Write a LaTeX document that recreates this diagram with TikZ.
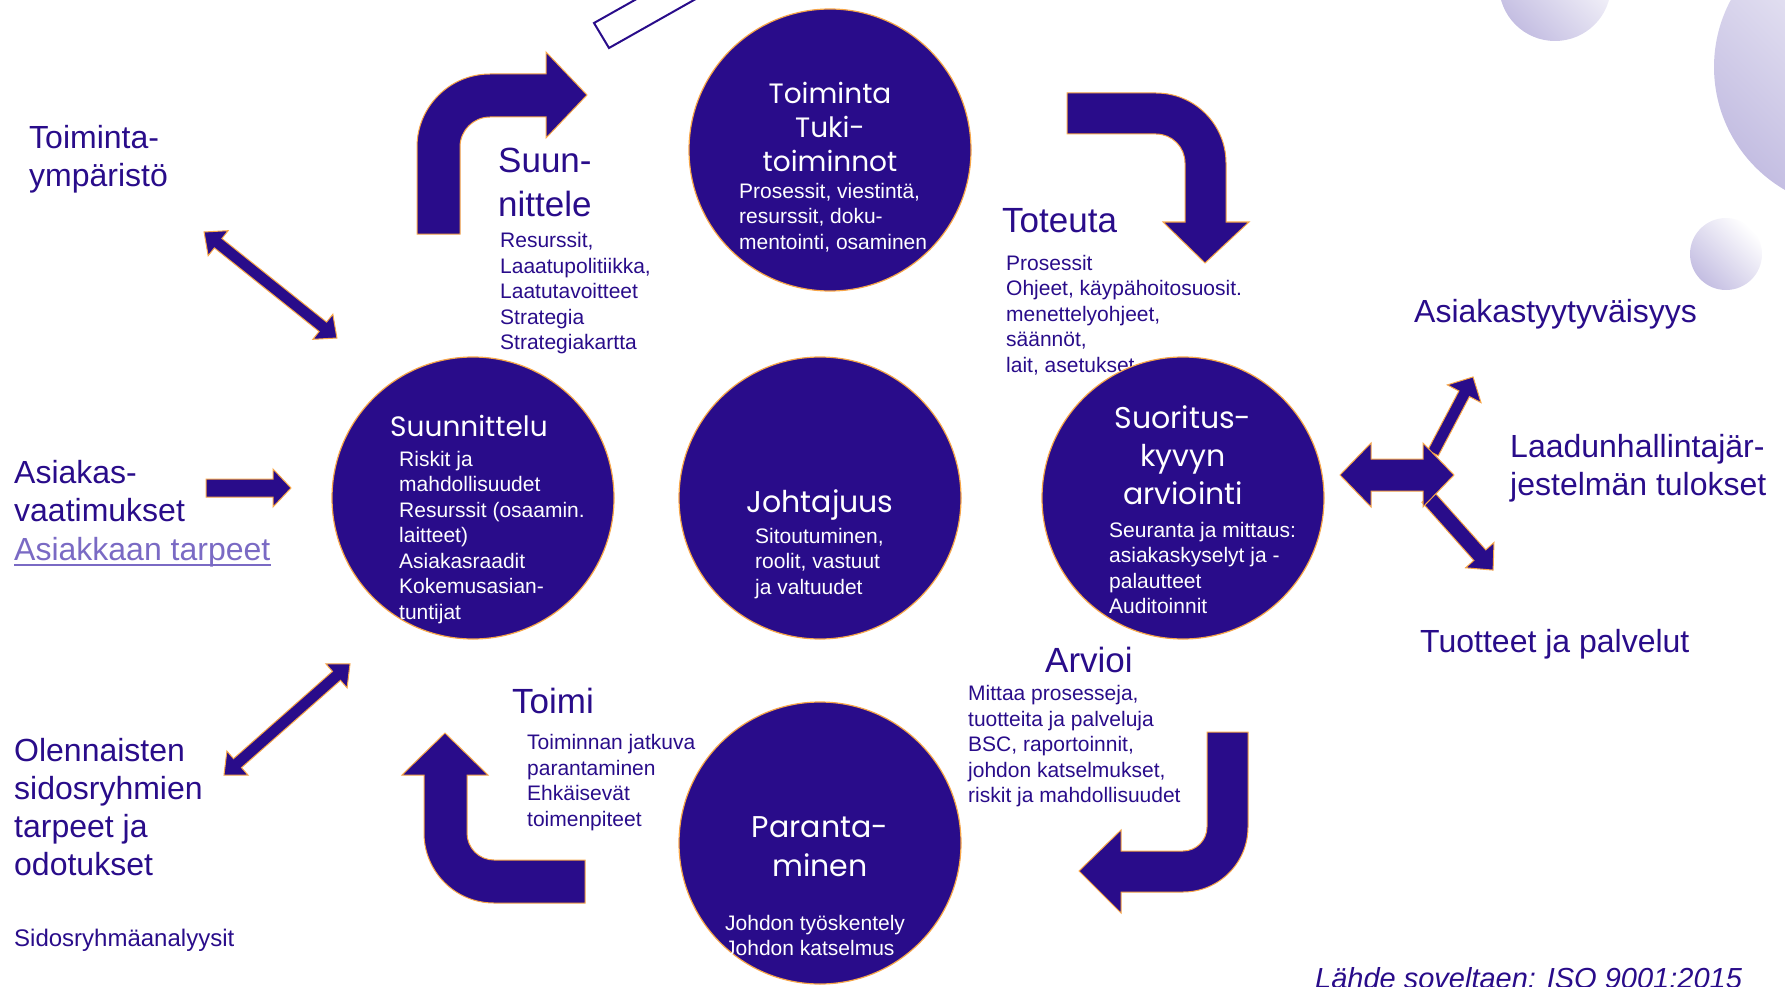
\documentclass[tikz,border=0pt]{standalone}
\usepackage{fontspec}
\setmainfont{Liberation Sans}
\newfontfamily\gothicfont{Poppins}
\usepackage{tikz}
\usetikzlibrary{positioning}

\definecolor{qpurple}{RGB}{41,12,138}
\definecolor{qorange}{RGB}{247,166,72}
\definecolor{qlink}{RGB}{122,106,196}
\definecolor{qbubble}{RGB}{196,190,226}

\begin{document}
\begin{tikzpicture}[
    x=1pt, y=1pt,
    phase/.style={circle, fill=qpurple, draw=qorange, line width=1.2pt, minimum size=282pt, inner sep=0pt},
    phasetitle/.style={anchor=north, align=center, inner sep=0pt, text=white, font=\gothicfont\fontsize{30}{38}\selectfont},
    phasenote/.style={anchor=north west, align=left, inner sep=0pt, text=white, font=\fontsize{21}{25.5}\selectfont},
    outer/.style={anchor=north west, align=left, inner sep=0pt, text=qpurple, font=\fontsize{32}{38}\selectfont},
    steplabel/.style={anchor=north west, align=left, inner sep=0pt, text=qpurple, font=\fontsize{35}{44}\selectfont},
    stepnote/.style={anchor=north west, align=left, inner sep=0pt, text=qpurple, font=\fontsize{21}{25.5}\selectfont},
    blockarrow/.style={fill=qpurple, draw=qorange, line width=1pt},
    bubble/.style={left color=qbubble, right color=white, shading angle=135}
]
    \useasboundingbox (0,0) rectangle (1785,-987);
    \clip (0,0) rectangle (1785,-987);

    % Bubbles in the corner
    \shade[bubble] (1555,15) circle[radius=56pt];
    \shade[bubble] (1856,-67) circle[radius=142pt];
    \shade[bubble] (1726,-254) circle[radius=36pt];

    % Frame at the top edge
    \draw[qpurple, line width=2pt] (681,26) -- (594,-23) -- (609,-48) -- (740,26);

    % Toteuta (drawn before the circles, its last line goes under one)
    \node[steplabel] (dotitle) at (1002,-208) {Toteuta};
    \node[stepnote, below=22pt of dotitle.south west, anchor=north west, xshift=4pt] (donote)
        {Prosessit\\Ohjeet, käypähoitosuosit.\\menettelyohjeet,\\säännöt,\\lait, asetukset};

    % Circles
    \node[phase] (support) at (830,-150) {};
    \node[phase] (planning) at (473,-498) {};
    \node[phase] (leader) at (820,-498) {};
    \node[phase] (perf) at (1183,-498) {};
    \node[phase] (improve) at (820,-843) {};

    % Circle texts
    \node[phasetitle, font=\gothicfont\fontsize{28}{34}\selectfont] (supporttitle) at (830,-82) {Toiminta\\Tuki-\\toiminnot};
    \node[phasenote] (supportnote) at (739,-183) {Prosessit, viestintä,\\resurssit, doku-\\mentointi, osaminen};
    \node[phasetitle, font=\gothicfont\fontsize{28}{32}\selectfont] (planningtitle) at (469,-415) {Suunnittelu};
    \node[phasenote] (planningnote) at (399,-451)
        {Riskit ja\\mahdollisuudet\\Resurssit (osaamin.\\laitteet)\\Asiakasraadit\\Kokemusasian-\\tuntijat};
    \node[phasetitle] (leadertitle) at (820,-489) {Johtajuus};
    \node[phasenote] (leadernote) at (755,-528) {Sitoutuminen,\\roolit, vastuut\\ja valtuudet};
    \node[phasetitle] (perftitle) at (1183,-405) {Suoritus-\\kyvyn\\arviointi};
    \node[phasenote] (perfnote) at (1109,-522) {Seuranta ja mittaus:\\asiakaskyselyt ja -\\palautteet\\Auditoinnit};
    \node[phasetitle, font=\gothicfont\fontsize{30}{39}\selectfont] (improvetitle) at (820,-816) {Paranta-\\minen};
    \node[phasenote] (improvenote) at (725,-915) {Johdon työskentely\\Johdon katselmus};

    % Step labels
    \node[steplabel] (plantitle) at (498,-148) {Suun-\\nittele};
    \node[stepnote, below=15pt of plantitle.south west, anchor=north west, xshift=2pt] (plannote)
        {Resurssit,\\Laaatupolitiikka,\\Laatutavoitteet\\Strategia\\Strategiakartta};
    \node[steplabel] (checktitle) at (1045,-647) {Arvioi};
    \node[stepnote, below=12pt of checktitle.south west, anchor=north west, xshift=-77pt] (checknote)
        {Mittaa prosesseja,\\tuotteita ja palveluja\\BSC, raportoinnit,\\johdon katselmukset,\\riskit ja mahdollisuudet};
    \node[steplabel] (acttitle) at (512,-688) {Toimi};
    \node[stepnote, below=20pt of acttitle.south west, anchor=north west, xshift=15pt] (actnote)
        {Toiminnan jatkuva\\parantaminen\\Ehkäisevät\\toimenpiteet};

    % Bent arrows of the cycle
    \filldraw[blockarrow] (417,-234) -- (417,-147) arc[start angle=180, end angle=90, radius=73pt]
        -- (546,-74) -- (546,-52) -- (587,-95) -- (546,-138) -- (546,-117) -- (490,-117)
        arc[start angle=90, end angle=180, radius=30pt] -- (460,-234) -- cycle;
    \filldraw[blockarrow] (1067,-93) -- (1156,-93) arc[start angle=90, end angle=0, radius=70pt]
        -- (1226,-222) -- (1249,-222) -- (1205,-263) -- (1163,-222) -- (1185,-222) -- (1185,-163)
        arc[start angle=0, end angle=90, radius=29pt] -- (1067,-134) -- cycle;
    \filldraw[blockarrow] (1207,-732) -- (1248,-732) -- (1248,-827) arc[start angle=0, end angle=-90, radius=65pt]
        -- (1121,-892) -- (1121,-913) -- (1079,-871) -- (1121,-830) -- (1121,-851) -- (1183,-851)
        arc[start angle=-90, end angle=0, radius=24pt] -- cycle;
    \filldraw[blockarrow] (585,-903) -- (494,-903) arc[start angle=-90, end angle=-180, radius=70pt]
        -- (424,-775) -- (402,-775) -- (445,-733) -- (488,-775) -- (467,-775) -- (467,-833)
        arc[start angle=180, end angle=270, radius=27pt] -- (585,-860) -- cycle;

    % Straight arrows on the left
    \begin{scope}[shift={(270.5,-285)}, rotate=-38.6]
        \filldraw[blockarrow] (-85,0) -- (-67,16) -- (-67,6) -- (67,6) -- (67,16) -- (85,0)
            -- (67,-16) -- (67,-6) -- (-67,-6) -- (-67,-16) -- cycle;
    \end{scope}
    \begin{scope}[shift={(287,-719.5)}, rotate=41.4]
        \filldraw[blockarrow] (-84,0) -- (-66,16) -- (-66,6) -- (66,6) -- (66,16) -- (84,0)
            -- (66,-16) -- (66,-6) -- (-66,-6) -- (-66,-16) -- cycle;
    \end{scope}
    \begin{scope}[shift={(248.5,-488)}]
        \filldraw[blockarrow] (-42.5,-9) -- (24.5,-9) -- (24.5,-19) -- (42.5,0) -- (24.5,19)
            -- (24.5,9) -- (-42.5,9) -- cycle;
    \end{scope}

    % Arrows on the right
    \begin{scope}[shift={(1453,-415)}, rotate=62.2]
        \filldraw[blockarrow] (-43,-6) -- (24,-6) -- (24,-19) -- (43,0) -- (24,19) -- (24,6) -- (-43,6) -- cycle;
    \end{scope}
    \begin{scope}[shift={(1460.5,-533.5)}, rotate=-48.3]
        \filldraw[blockarrow] (-49,-8) -- (29,-8) -- (29,-19) -- (49,0) -- (29,19) -- (29,8) -- (-49,8) -- cycle;
    \end{scope}
    \begin{scope}[shift={(1397,-475)}]
        \filldraw[blockarrow] (-57,0) -- (-26,32) -- (-26,16) -- (26,16) -- (26,32) -- (57,0)
            -- (26,-32) -- (26,-16) -- (-26,-16) -- (-26,-32) -- cycle;
    \end{scope}

    % Outer labels
    \node[outer] (env) at (29,-125) {Toiminta-\\ympäristö};
    \node[outer] (custreq) at (14,-460) {Asiakas-\\vaatimukset};
    \node[outer, anchor=base west, text=qlink] (custneed) at (14,-560) {Asiakkaan tarpeet};
    \draw[qlink, line width=1.5pt] ([yshift=-5pt]custneed.base west) -- ([yshift=-5pt]custneed.base east);
    \node[outer] (stake) at (14,-738) {Olennaisten\\sidosryhmien\\tarpeet ja\\odotukset};
    \node[stepnote, anchor=base west, font=\fontsize{24}{28}\selectfont] (stakenote) at (14,-946) {Sidosryhmäanalyysit};
    \node[outer, anchor=base west] (satisf) at (1414,-322) {Asiakastyytyväisyys};
    \node[outer] (qms) at (1510,-434) {Laadunhallintajär-\\jestelmän tulokset};
    \node[outer, anchor=base west] (products) at (1420,-652) {Tuotteet ja palvelut};
    \node[outer, anchor=base west, font=\itshape\fontsize{29}{34}\selectfont] (source) at (1315,-988)
        {Lähde soveltaen: ISO 9001:2015};
\end{tikzpicture}
\end{document}
